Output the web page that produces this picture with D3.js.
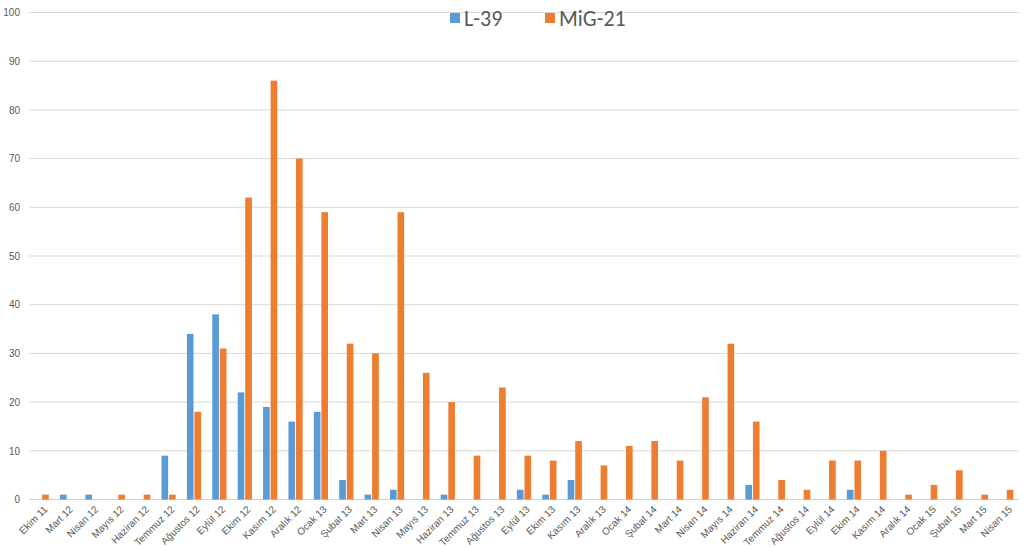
<!DOCTYPE html>
<html><head><meta charset="utf-8">
<script src="https://cdn.jsdelivr.net/npm/d3@7"></script>
<style>body{margin:0;background:#fff;}svg{display:block;font-family:Calibri,"Liberation Sans","Open Sans",sans-serif;}</style>
</head><body>
<svg id="c" width="1024" height="547"></svg>
<script>
const categories = ["Ekim 11","Mart 12","Nisan 12","Mayıs 12","Haziran 12","Temmuz 12","Ağustos 12","Eylül 12","Ekim 12","Kasım 12","Aralık 12","Ocak 13","Şubat 13","Mart 13","Nisan 13","Mayıs 13","Haziran 13","Temmuz 13","Ağustos 13","Eylül 13","Ekim 13","Kasım 13","Aralık 13","Ocak 14","Şubat 14","Mart 14","Nisan 14","Mayıs 14","Haziran 14","Temmuz 14","Ağustos 14","Eylül 14","Ekim 14","Kasım 14","Aralık 14","Ocak 15","Şubat 15","Mart 15","Nisan 15"];
const l39 = [0,1,1,0,0,9,34,38,22,19,16,18,4,1,2,0,1,0,0,2,1,4,0,0,0,0,0,0,3,0,0,0,2,0,0,0,0,0,0];
const mig21 = [1,0,0,1,1,1,18,31,62,86,70,59,32,30,59,26,20,9,23,9,8,12,7,11,12,8,21,32,16,4,2,8,8,10,1,3,6,1,2];
const seriesNames = ["L-39","MiG-21"];
const colors = ["#5B9BD5","#ED7D31"];
const yTicks = [0,10,20,30,40,50,60,70,80,90,100];

(function(){
const svg = d3.select("#c");
const mLeft = 29, mRight = 1019, mTop = 12.5, mBottom = 499.5;
const x = d3.scaleBand().domain(categories).range([mLeft,mRight]).paddingInner(0.44).paddingOuter(0.22);
const xs = d3.scaleBand().domain(seriesNames).range([0,x.bandwidth()]).paddingInner(0.12);
const y = d3.scaleLinear().domain([0,100]).range([mBottom,mTop]);

svg.append("g").selectAll("line").data(yTicks).join("line")
  .attr("x1",mLeft).attr("x2",mRight)
  .attr("y1",d=>y(d)).attr("y2",d=>y(d))
  .attr("stroke",d=>d===0?"#d0d0d0":"#d9d9d9").attr("stroke-width",1);

const yAxis = d3.axisLeft(y).tickValues(yTicks).tickSize(0).tickPadding(0);
const ya = svg.append("g").attr("transform",`translate(${mLeft-9},0)`).call(yAxis);
ya.select(".domain").remove();
ya.selectAll("text").attr("fill","#595959").style("font-size","10px");

const data = [l39, mig21];
data.forEach((vals,si)=>{
  svg.append("g").selectAll("rect").data(vals).join("rect")
    .attr("x",(d,i)=>x(categories[i])+xs(seriesNames[si]))
    .attr("width",xs.bandwidth())
    .attr("y",d=>y(d))
    .attr("height",d=>y(0)-y(d))
    .attr("fill",colors[si]);
});

const xAxis = d3.axisBottom(x).tickSize(0).tickPadding(0);
const xa = svg.append("g").attr("transform",`translate(0,${mBottom})`).call(xAxis);
xa.select(".domain").remove();
xa.selectAll("text")
  .attr("fill","#595959").style("font-size","10px")
  .attr("text-anchor","end")
  .attr("transform","translate(4,8) rotate(-45)")
  .attr("dy","0.35em");

const lg = svg.append("g").attr("transform","translate(0,18)");
const legendX = [450,545];
seriesNames.forEach((n,i)=>{
  lg.append("rect").attr("x",legendX[i]).attr("y",-5).attr("width",10).attr("height",10).attr("fill",colors[i]);
  lg.append("text").attr("x",legendX[i]+14).attr("y",0).attr("dy","0.35em")
    .attr("fill","#595959").style("font-size","22px").text(n);
});
})();
</script>
</body></html>
